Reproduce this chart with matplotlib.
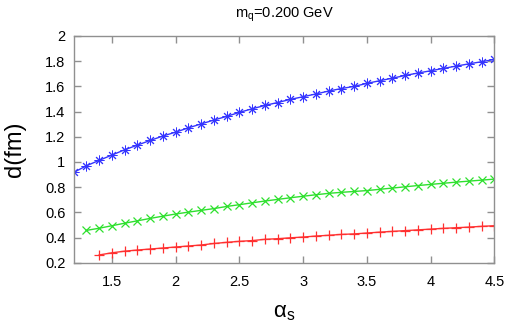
import matplotlib
matplotlib.use("Agg")
import matplotlib.pyplot as plt
from matplotlib.ticker import FormatStrFormatter

plt.rcParams["font.family"] = ["Liberation Sans", "DejaVu Sans"]
plt.rcParams["mathtext.fontset"] = "custom"
plt.rcParams["mathtext.rm"] = "Liberation Sans"
plt.rcParams["mathtext.it"] = "Liberation Sans"

# --------------------------
# Datos
# --------------------------
alpha_blue = [1.2, 1.3, 1.4, 1.5, 1.6, 1.7, 1.8, 1.9, 2.0, 2.1, 2.2, 2.3, 2.4, 2.5,
              2.6, 2.7, 2.8, 2.9, 3.0, 3.1, 3.2, 3.3, 3.4, 3.5, 3.6, 3.7, 3.8, 3.9,
              4.0, 4.1, 4.2, 4.3, 4.4, 4.5]
d_blue = [0.917, 0.970, 1.013, 1.055, 1.097, 1.134, 1.171, 1.206, 1.237, 1.271,
          1.302, 1.333, 1.362, 1.394, 1.422, 1.449, 1.472, 1.497, 1.518, 1.540,
          1.563, 1.583, 1.600, 1.624, 1.645, 1.665, 1.687, 1.706, 1.724, 1.743,
          1.761, 1.779, 1.796, 1.814]

alpha_green = alpha_blue[1:]
d_green = [0.457, 0.474, 0.494, 0.514, 0.533, 0.552, 0.570, 0.587, 0.602, 0.616,
           0.630, 0.647, 0.661, 0.676, 0.690, 0.703, 0.716, 0.728, 0.740, 0.751,
           0.759, 0.766, 0.773, 0.783, 0.793, 0.803, 0.813, 0.822, 0.831, 0.840,
           0.848, 0.856, 0.864]

alpha_red = alpha_blue[2:]
d_red = [0.262, 0.279, 0.292, 0.301, 0.309, 0.317, 0.325, 0.333, 0.341, 0.353,
         0.362, 0.370, 0.376, 0.386, 0.391, 0.398, 0.404, 0.412, 0.418, 0.425,
         0.429, 0.436, 0.443, 0.449, 0.455, 0.461, 0.467, 0.473, 0.478, 0.483,
         0.489, 0.494]

x_ticks = [1.5, 2, 2.5, 3, 3.5, 4, 4.5]
y_ticks = [0.2, 0.4, 0.6, 0.8, 1.0, 1.2, 1.4, 1.6, 1.8, 2.0]

# --------------------------
# Figura
# --------------------------
fig = plt.figure(figsize=(5.1, 3.26), dpi=100)
ax = fig.add_axes([0.1445, 0.194, 0.8251, 0.6956])

ax.plot(alpha_blue, d_blue, color="#3535ff", lw=1.0, marker=(8, 2, 0), ms=7, mew=0.7)
ax.plot(alpha_green, d_green, color="#2ee02e", lw=1.0, marker="x", ms=6, mew=0.9)
ax.plot(alpha_red, d_red, color="#ff3030", lw=1.0, marker="+", ms=7, mew=0.9)

ax.set_xlim(1.2, 4.5)
ax.set_ylim(0.2, 2.0)
ax.set_xticks(x_ticks)
ax.set_yticks(y_ticks)
ax.xaxis.set_major_formatter(FormatStrFormatter("%g"))
ax.yaxis.set_major_formatter(FormatStrFormatter("%g"))

ax.tick_params(direction="in", length=5, width=1, color="#909090",
               top=True, right=True, labelsize=10.5)
ax.tick_params(axis="x", pad=9)
ax.tick_params(axis="y", pad=6)
for s in ax.spines.values():
    s.set_color("#909090")
    s.set_linewidth(1.0)

ax.set_title(r"m$_{\mathrm{q}}$=0.200 GeV", fontsize=10.5, pad=13)
ax.set_xlabel(r"α$_{\mathrm{s}}$", fontsize=16, labelpad=9)
ax.set_ylabel("d(fm)", fontsize=17, labelpad=14)

fig.savefig("out.png", dpi=100)
